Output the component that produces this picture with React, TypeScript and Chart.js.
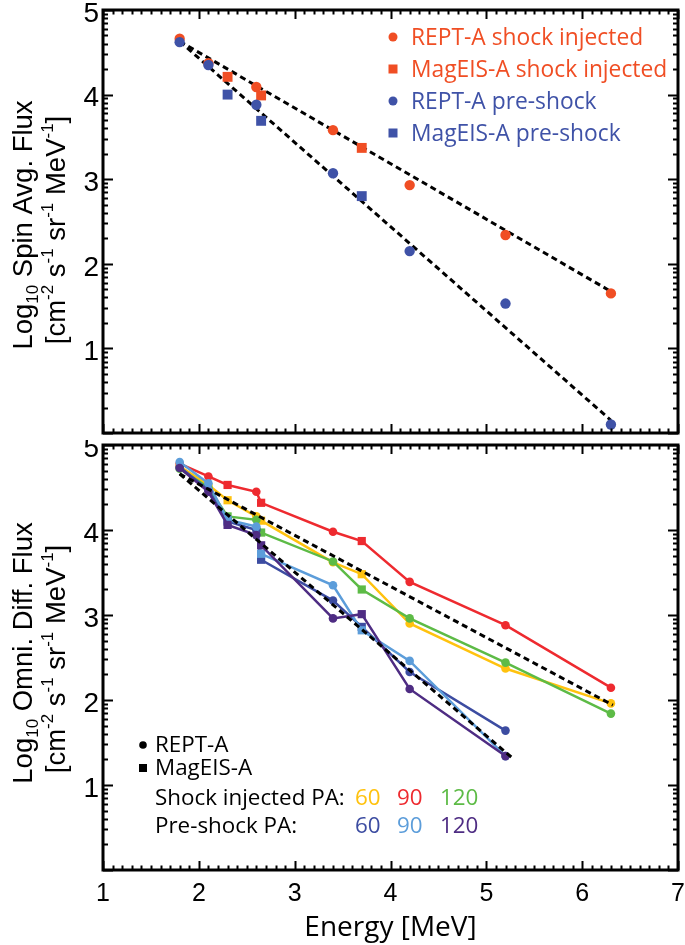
import React, { useEffect, useRef } from 'react';
import { Chart, registerables } from 'chart.js';
Chart.register(...registerables);

// ---------- data ----------
const REPT_ENERGY = [1.8, 2.1, 2.6, 3.4, 4.2, 5.2, 6.3];
const MAGEIS_ENERGY = [2.3, 2.65, 3.7];

// top panel: spin averaged flux (log10)
const REPT_SHOCK_SPIN = [4.66, 4.37, 4.09, 3.58, 2.93, 2.34, 1.65];
const MAGEIS_SHOCK_SPIN = [4.21, 3.99, 3.37];
const REPT_PRE_SPIN = [4.62, 4.35, 3.88, 3.07, 2.15, 1.53, 0.1];
const MAGEIS_PRE_SPIN = [4.0, 3.69, 2.8];
const FIT_SHOCK_SPIN_E = [1.8, 6.32];
const FIT_SHOCK_SPIN = [4.63, 1.66];
const FIT_PRE_SPIN_E = [1.8, 6.3];
const FIT_PRE_SPIN = [4.63, 0.15];

// bottom panel: omni-directional differential flux (log10)
const SHOCK_60_REPT = [4.75, 4.53, 4.16, 3.62, 2.9, 2.37, 1.96];
const SHOCK_60_MAGEIS = [4.35, 4.11, 3.48];
const SHOCK_90_REPT = [4.78, 4.63, 4.45, 3.98, 3.39, 2.88, 2.145];
const SHOCK_90_MAGEIS = [4.53, 4.32, 3.87];
const SHOCK_120_REPT = [4.72, 4.5, 4.12, 3.63, 2.96, 2.44, 1.84];
const SHOCK_120_MAGEIS = [4.16, 3.97, 3.3];
const PRE_60_REPT = [4.74, 4.47, 4.0, 3.17, 2.33, 1.64];
const PRE_60_MAGEIS = [4.1, 3.65, 2.86];
const PRE_90_REPT = [4.8, 4.55, 4.04, 3.35, 2.46, 1.34];
const PRE_90_MAGEIS = [4.12, 3.72, 2.82];
const PRE_120_REPT = [4.73, 4.45, 3.94, 2.96, 2.13, 1.34];
const PRE_120_MAGEIS = [4.06, 3.82, 3.01];
const FIT_SHOCK_OMNI_E = [1.8, 6.32];
const FIT_SHOCK_OMNI = [4.66, 1.94];
const FIT_PRE_OMNI_E = [1.8, 5.28];
const FIT_PRE_OMNI = [4.66, 1.31];

const X_MIN = 1, X_MAX = 7;
const Y_MIN = 0, Y_MAX = 5;

const TOP_LABELS = ['REPT-A shock injected', 'MagEIS-A shock injected', 'REPT-A pre-shock', 'MagEIS-A pre-shock'];
const BOTTOM_INSTR = ['REPT-A', 'MagEIS-A'];
const BOTTOM_ROWS = ['Shock injected PA:', 'Pre-shock PA:'];
const PA_LABELS = ['60', '90', '120'];
const X_TITLE = 'Energy [MeV]';

// ---------- styles ----------
const ORANGE = '#F04E24';
const BLUE = '#3F52A7';
const C_YEL = '#FFC20E';
const C_RED = '#EE2A2F';
const C_GRN = '#5DBB46';
const C_DBL = '#3C4CA1';
const C_LBL = '#5C9DDA';
const C_PUR = '#4E2C83';

const HELV = '"Liberation Sans", Arial, sans-serif';
const MYR = '"Open Sans", Lato, sans-serif';

type Seg = { t: string; s: number; dy?: number };

function drawRich(ctx: CanvasRenderingContext2D, segs: Seg[], bx: number, cy: number) {
  ctx.save();
  ctx.translate(bx, cy);
  ctx.rotate(-Math.PI / 2);
  ctx.fillStyle = '#000';
  ctx.textBaseline = 'alphabetic';
  ctx.textAlign = 'left';
  let total = 0;
  const widths = segs.map((g) => {
    ctx.font = `${g.s}px ${HELV}`;
    const w = ctx.measureText(g.t).width;
    total += w;
    return w;
  });
  let x = -total / 2;
  segs.forEach((g, i) => {
    ctx.font = `${g.s}px ${HELV}`;
    ctx.fillText(g.t, x, g.dy || 0);
    x += widths[i];
  });
  ctx.restore();
}

function unitSegs(): Seg[] {
  const B = 27.5, S = 17, UP = -12;
  return [
    { t: '[cm', s: B }, { t: '-2', s: S, dy: UP },
    { t: ' s', s: B }, { t: '-1', s: S, dy: UP },
    { t: ' sr', s: B }, { t: '-1', s: S, dy: UP },
    { t: ' MeV', s: B }, { t: '-1', s: S, dy: UP },
    { t: ']', s: B },
  ];
}

function frameTicks(chart: any) {
  const { ctx, chartArea: a, scales } = chart;
  const xs = scales.x, ys = scales.y;
  ctx.save();
  ctx.strokeStyle = '#000';
  ctx.lineWidth = 2;
  ctx.beginPath();
  for (let i = X_MIN * 10; i <= X_MAX * 10; i++) {
    const px = Math.round(xs.getPixelForValue(i / 10)) + 0.5;
    const len = i % 10 === 0 ? 9 : 4.5;
    ctx.moveTo(px, a.top); ctx.lineTo(px, a.top + len);
    ctx.moveTo(px, a.bottom); ctx.lineTo(px, a.bottom - len);
  }
  for (let n = Y_MIN; n <= Y_MAX; n++) {
    const vals = [n];
    if (n < Y_MAX) for (let k = 2; k <= 9; k++) vals.push(n + Math.log10(k));
    vals.forEach((v, j) => {
      const py = Math.round(ys.getPixelForValue(v)) + 0.5;
      const len = j === 0 ? 10 : 5;
      ctx.moveTo(a.left, py); ctx.lineTo(a.left + len, py);
      ctx.moveTo(a.right, py); ctx.lineTo(a.right - len, py);
    });
  }
  ctx.stroke();
  ctx.lineWidth = 3;
  ctx.strokeRect(a.left, a.top, a.right - a.left, a.bottom - a.top);
  ctx.restore();
}

function merged(re: number[], rv: number[], me: number[], mv: number[]) {
  const pts: { x: number; y: number; s: string }[] = [];
  rv.forEach((v, i) => pts.push({ x: re[i], y: v, s: 'circle' }));
  mv.forEach((v, i) => pts.push({ x: me[i], y: v, s: 'rect' }));
  pts.sort((p, q) => p.x - q.x);
  return pts;
}

function lineSeries(label: string, color: string, rv: number[], mv: number[]) {
  const pts = merged(REPT_ENERGY, rv, MAGEIS_ENERGY, mv);
  return {
    label,
    data: pts.map((p) => ({ x: p.x, y: p.y })),
    pointStyle: pts.map((p) => p.s),
    pointRadius: pts.map((p) => (p.s === 'rect' ? 5.8 : 4.3)),
    pointBorderWidth: 0,
    borderColor: color,
    backgroundColor: color,
    pointBackgroundColor: color,
    borderWidth: 2.5,
    showLine: true,
    tension: 0,
  };
}

function fitSeries(e: number[], v: number[]) {
  return {
    label: '',
    data: e.map((x, i) => ({ x, y: v[i] })),
    borderColor: '#000',
    borderWidth: 3,
    borderDash: [6, 4],
    pointRadius: 0,
    showLine: true,
    tension: 0,
  };
}

function markerSeries(label: string, color: string, e: number[], v: number[], style: string) {
  return {
    label,
    data: e.map((x, i) => ({ x, y: v[i] })).slice(0, v.length),
    pointStyle: style,
    pointRadius: style === 'rect' ? 7 : 5.2,
    pointBorderWidth: 0,
    backgroundColor: color,
    borderColor: color,
    showLine: false,
  };
}

function baseScales(showXLabels: boolean, yFitWidth: number, xFitHeight: number) {
  return {
    x: {
      type: 'linear',
      min: X_MIN,
      max: X_MAX,
      position: 'bottom',
      grid: { display: false, drawTicks: false },
      border: { display: false },
      ticks: {
        display: showXLabels,
        stepSize: 1,
        autoSkip: false,
        maxRotation: 0,
        color: '#000',
        padding: 9,
        font: { family: HELV, size: 25 },
      },
      title: showXLabels
        ? { display: true, text: X_TITLE, color: '#000', font: { family: MYR, size: 28 }, padding: { top: 0, bottom: 0 } }
        : { display: false },
      afterFit: (s: any) => { s.height = xFitHeight; s.paddingLeft = 0; s.paddingRight = 0; },
    },
    y: {
      type: 'linear',
      min: Y_MIN,
      max: Y_MAX,
      grid: { display: false, drawTicks: false },
      border: { display: false },
      ticks: {
        stepSize: 1,
        color: '#000',
        padding: 4,
        labelOffset: 4,
        font: { family: HELV, size: 28 },
        callback: (v: number) => (v === 0 ? '' : String(v)),
      },
      afterFit: (s: any) => { s.width = yFitWidth; s.paddingTop = 0; s.paddingBottom = 0; },
    },
  };
}

function TopChart() {
  const ref = useRef<HTMLCanvasElement>(null);
  useEffect(() => {
    const plugin = {
      id: 'topDecor',
      afterDatasetsDraw(chart: any) { frameTicks(chart); },
      afterDraw(chart: any) {
        const ctx = chart.ctx;
        drawRich(ctx, [{ t: 'Log', s: 27.5 }, { t: '10', s: 17, dy: 6 }, { t: ' Spin Avg. Flux', s: 27.5 }], 32, 225);
        drawRich(ctx, unitSegs(), 65, 230);
        // legend
        const order = [2, 3, 0, 1];
        ctx.save();
        order.forEach((di, row) => {
          const ds = chart.data.datasets[di];
          const cy = 37 + row * 32;
          ctx.fillStyle = ds.backgroundColor;
          if (ds.pointStyle === 'rect') ctx.fillRect(393 - 4.5, cy - 4.5, 9, 9);
          else { ctx.beginPath(); ctx.arc(393, cy, 4.5, 0, Math.PI * 2); ctx.fill(); }
          ctx.font = `22.8px ${MYR}`;
          ctx.textBaseline = 'alphabetic';
          ctx.fillText(ds.label, 411, cy + 8);
        });
        ctx.restore();
      },
    };
    const chart = new Chart(ref.current!, {
      type: 'scatter',
      data: {
        datasets: [
          markerSeries(TOP_LABELS[2], BLUE, REPT_ENERGY, REPT_PRE_SPIN, 'circle'),
          markerSeries(TOP_LABELS[3], BLUE, MAGEIS_ENERGY, MAGEIS_PRE_SPIN, 'rect'),
          markerSeries(TOP_LABELS[0], ORANGE, REPT_ENERGY, REPT_SHOCK_SPIN, 'circle'),
          markerSeries(TOP_LABELS[1], ORANGE, MAGEIS_ENERGY, MAGEIS_SHOCK_SPIN, 'rect'),
          fitSeries(FIT_SHOCK_SPIN_E, FIT_SHOCK_SPIN),
          fitSeries(FIT_PRE_SPIN_E, FIT_PRE_SPIN),
        ] as any,
      },
      options: {
        responsive: false,
        animation: false,
        devicePixelRatio: 1,
        layout: { padding: { left: 0, right: 7, top: 10, bottom: 5 } },
        plugins: { legend: { display: false }, tooltip: { enabled: false } },
        scales: baseScales(false, 103, 0) as any,
      },
      plugins: [plugin],
    });
    return () => chart.destroy();
  }, []);
  return <canvas ref={ref} width={685} height={440} style={{ position: 'absolute', left: 0, top: 0, width: 685, height: 440 }} />;
}

function BottomChart() {
  const ref = useRef<HTMLCanvasElement>(null);
  useEffect(() => {
    const plugin = {
      id: 'bottomDecor',
      afterDatasetsDraw(chart: any) { frameTicks(chart); },
      afterDraw(chart: any) {
        const ctx = chart.ctx;
        drawRich(ctx, [{ t: 'Log', s: 27.5 }, { t: '10', s: 17, dy: 6 }, { t: ' Omni. Diff. Flux', s: 27.5 }], 32, 213);
        drawRich(ctx, unitSegs(), 65, 219);
        ctx.save();
        ctx.fillStyle = '#000';
        ctx.beginPath(); ctx.arc(143, 305, 3.8, 0, Math.PI * 2); ctx.fill();
        ctx.fillRect(143 - 4, 328 - 4, 8, 8);
        ctx.font = `22.4px ${MYR}`;
        ctx.textBaseline = 'alphabetic';
        ctx.fillText(BOTTOM_INSTR[0], 155, 312);
        ctx.fillText(BOTTOM_INSTR[1], 155, 335);
        ctx.fillText(BOTTOM_ROWS[0], 155, 365);
        ctx.fillText(BOTTOM_ROWS[1], 155, 393);
        const colX = [355, 397, 440];
        const shockC = [C_YEL, C_RED, C_GRN];
        const preC = [C_DBL, C_LBL, C_PUR];
        PA_LABELS.forEach((t, i) => {
          ctx.fillStyle = shockC[i]; ctx.fillText(t, colX[i], 365);
          ctx.fillStyle = preC[i]; ctx.fillText(t, colX[i], 393);
        });
        ctx.restore();
      },
    };
    const chart = new Chart(ref.current!, {
      type: 'scatter',
      data: {
        datasets: [
          fitSeries(FIT_SHOCK_OMNI_E, FIT_SHOCK_OMNI),
          fitSeries(FIT_PRE_OMNI_E, FIT_PRE_OMNI),
          lineSeries('Pre 120', C_PUR, PRE_120_REPT, PRE_120_MAGEIS),
          lineSeries('Pre 90', C_LBL, PRE_90_REPT, PRE_90_MAGEIS),
          lineSeries('Pre 60', C_DBL, PRE_60_REPT, PRE_60_MAGEIS),
          lineSeries('Shock 120', C_GRN, SHOCK_120_REPT, SHOCK_120_MAGEIS),
          lineSeries('Shock 60', C_YEL, SHOCK_60_REPT, SHOCK_60_MAGEIS),
          lineSeries('Shock 90', C_RED, SHOCK_90_REPT, SHOCK_90_MAGEIS),
        ] as any,
      },
      options: {
        responsive: false,
        animation: false,
        devicePixelRatio: 1,
        layout: { padding: { left: 0, right: 7, top: 5, bottom: 0 } },
        plugins: { legend: { display: false }, tooltip: { enabled: false } },
        scales: baseScales(true, 103, 75) as any,
      },
      plugins: [plugin],
    });
    return () => chart.destroy();
  }, []);
  return <canvas ref={ref} width={685} height={505} style={{ position: 'absolute', left: 0, top: 440, width: 685, height: 505 }} />;
}

export default function App() {
  return (
    <div style={{ position: 'absolute', left: 0, top: 0, width: 685, height: 945, background: '#fff', overflow: 'hidden' }}>
      <TopChart />
      <BottomChart />
    </div>
  );
}
